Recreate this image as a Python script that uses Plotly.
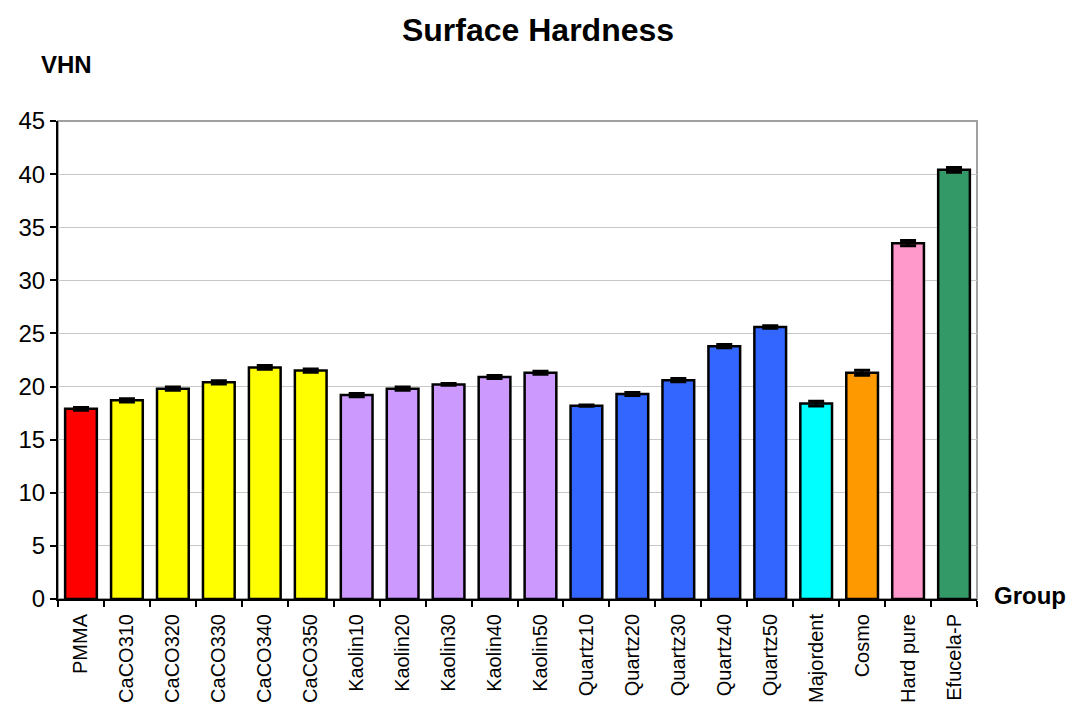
import plotly.graph_objects as go

groups = ["PMMA", "CaCO310", "CaCO320", "CaCO330", "CaCO340", "CaCO350",
          "Kaolin10", "Kaolin20", "Kaolin30", "Kaolin40", "Kaolin50",
          "Quartz10", "Quartz20", "Quartz30", "Quartz40", "Quartz50",
          "Majordent", "Cosmo", "Hard pure", "Efucela-P"]
vhn = [17.9, 18.7, 19.8, 20.4, 21.8, 21.5,
       19.2, 19.8, 20.2, 20.9, 21.3,
       18.2, 19.3, 20.6, 23.8, 25.6,
       18.4, 21.3, 33.5, 40.4]
sd = [0.12, 0.15, 0.15, 0.15, 0.18, 0.15,
      0.15, 0.15, 0.08, 0.15, 0.15,
      0.06, 0.15, 0.15, 0.15, 0.12,
      0.22, 0.24, 0.24, 0.22]
colors = ["#FF0000"] + ["#FFFF00"] * 5 + ["#CC99FF"] * 5 + ["#3366FF"] * 5 + \
         ["#00FFFF", "#FF9900", "#FF99CC", "#339966"]
y_ticks = [0, 5, 10, 15, 20, 25, 30, 35, 40, 45]

FONT = "Arial, Liberation Sans, sans-serif"
W, H = 1072, 713
L, R, T, B = 58, 95, 121, 114
pw, ph = W - L - R, H - T - B

fig = go.Figure(go.Bar(
    x=groups, y=vhn,
    marker=dict(color=colors, line=dict(color="black", width=2.5)),
    width=0.69,
    error_y=dict(type="data", array=sd, visible=True, color="black",
                 thickness=3, width=8),
))

fig.update_layout(
    width=W, height=H,
    margin=dict(l=L, r=R, t=T, b=B, autoexpand=False),
    paper_bgcolor="white", plot_bgcolor="white",
    showlegend=False,
    font=dict(family=FONT, color="black"),
    title=dict(text="<b>Surface Hardness</b>", x=538 / W, xref="container",
               xanchor="center", y=1 - 30 / H, yref="container", yanchor="middle",
               font=dict(size=32, family=FONT, color="black")),
    xaxis=dict(type="category", tickangle=-90, tickson="boundaries",
               ticks="outside", ticklen=6, tickcolor="black", tickwidth=2,
               showline=True, linecolor="black", linewidth=2,
               tickfont=dict(size=20, family=FONT), automargin=False,
               ticklabelstandoff=5, showgrid=False),
    yaxis=dict(range=[0, 45], tickvals=y_ticks, ticks="outside", ticklen=6,
               tickcolor="black", tickwidth=2, showline=True, linecolor="black",
               linewidth=2, showgrid=True, gridcolor="#C8C8C8", gridwidth=1,
               zeroline=False, tickfont=dict(size=24, family=FONT),
               automargin=False),
    shapes=[dict(type="rect", xref="paper", yref="paper", x0=0, x1=1, y0=0, y1=1,
                 line=dict(color="#A0A0A0", width=2), layer="below")],
    annotations=[
        dict(text="<b>VHN</b>", x=(66 - L) / pw, y=(H - B - 65) / ph,
             xref="paper", yref="paper", xanchor="center", yanchor="middle",
             showarrow=False, font=dict(size=24, family=FONT)),
        dict(text="<b>Group</b>", x=(992 - L) / pw, y=(H - B - 595) / ph,
             xref="paper", yref="paper", xanchor="left", yanchor="middle",
             showarrow=False, font=dict(size=24, family=FONT)),
    ],
)

fig.write_html("out.html", config={"displayModeBar": False},
               post_script="document.body.style.margin='0';document.body.style.overflow='hidden';")
